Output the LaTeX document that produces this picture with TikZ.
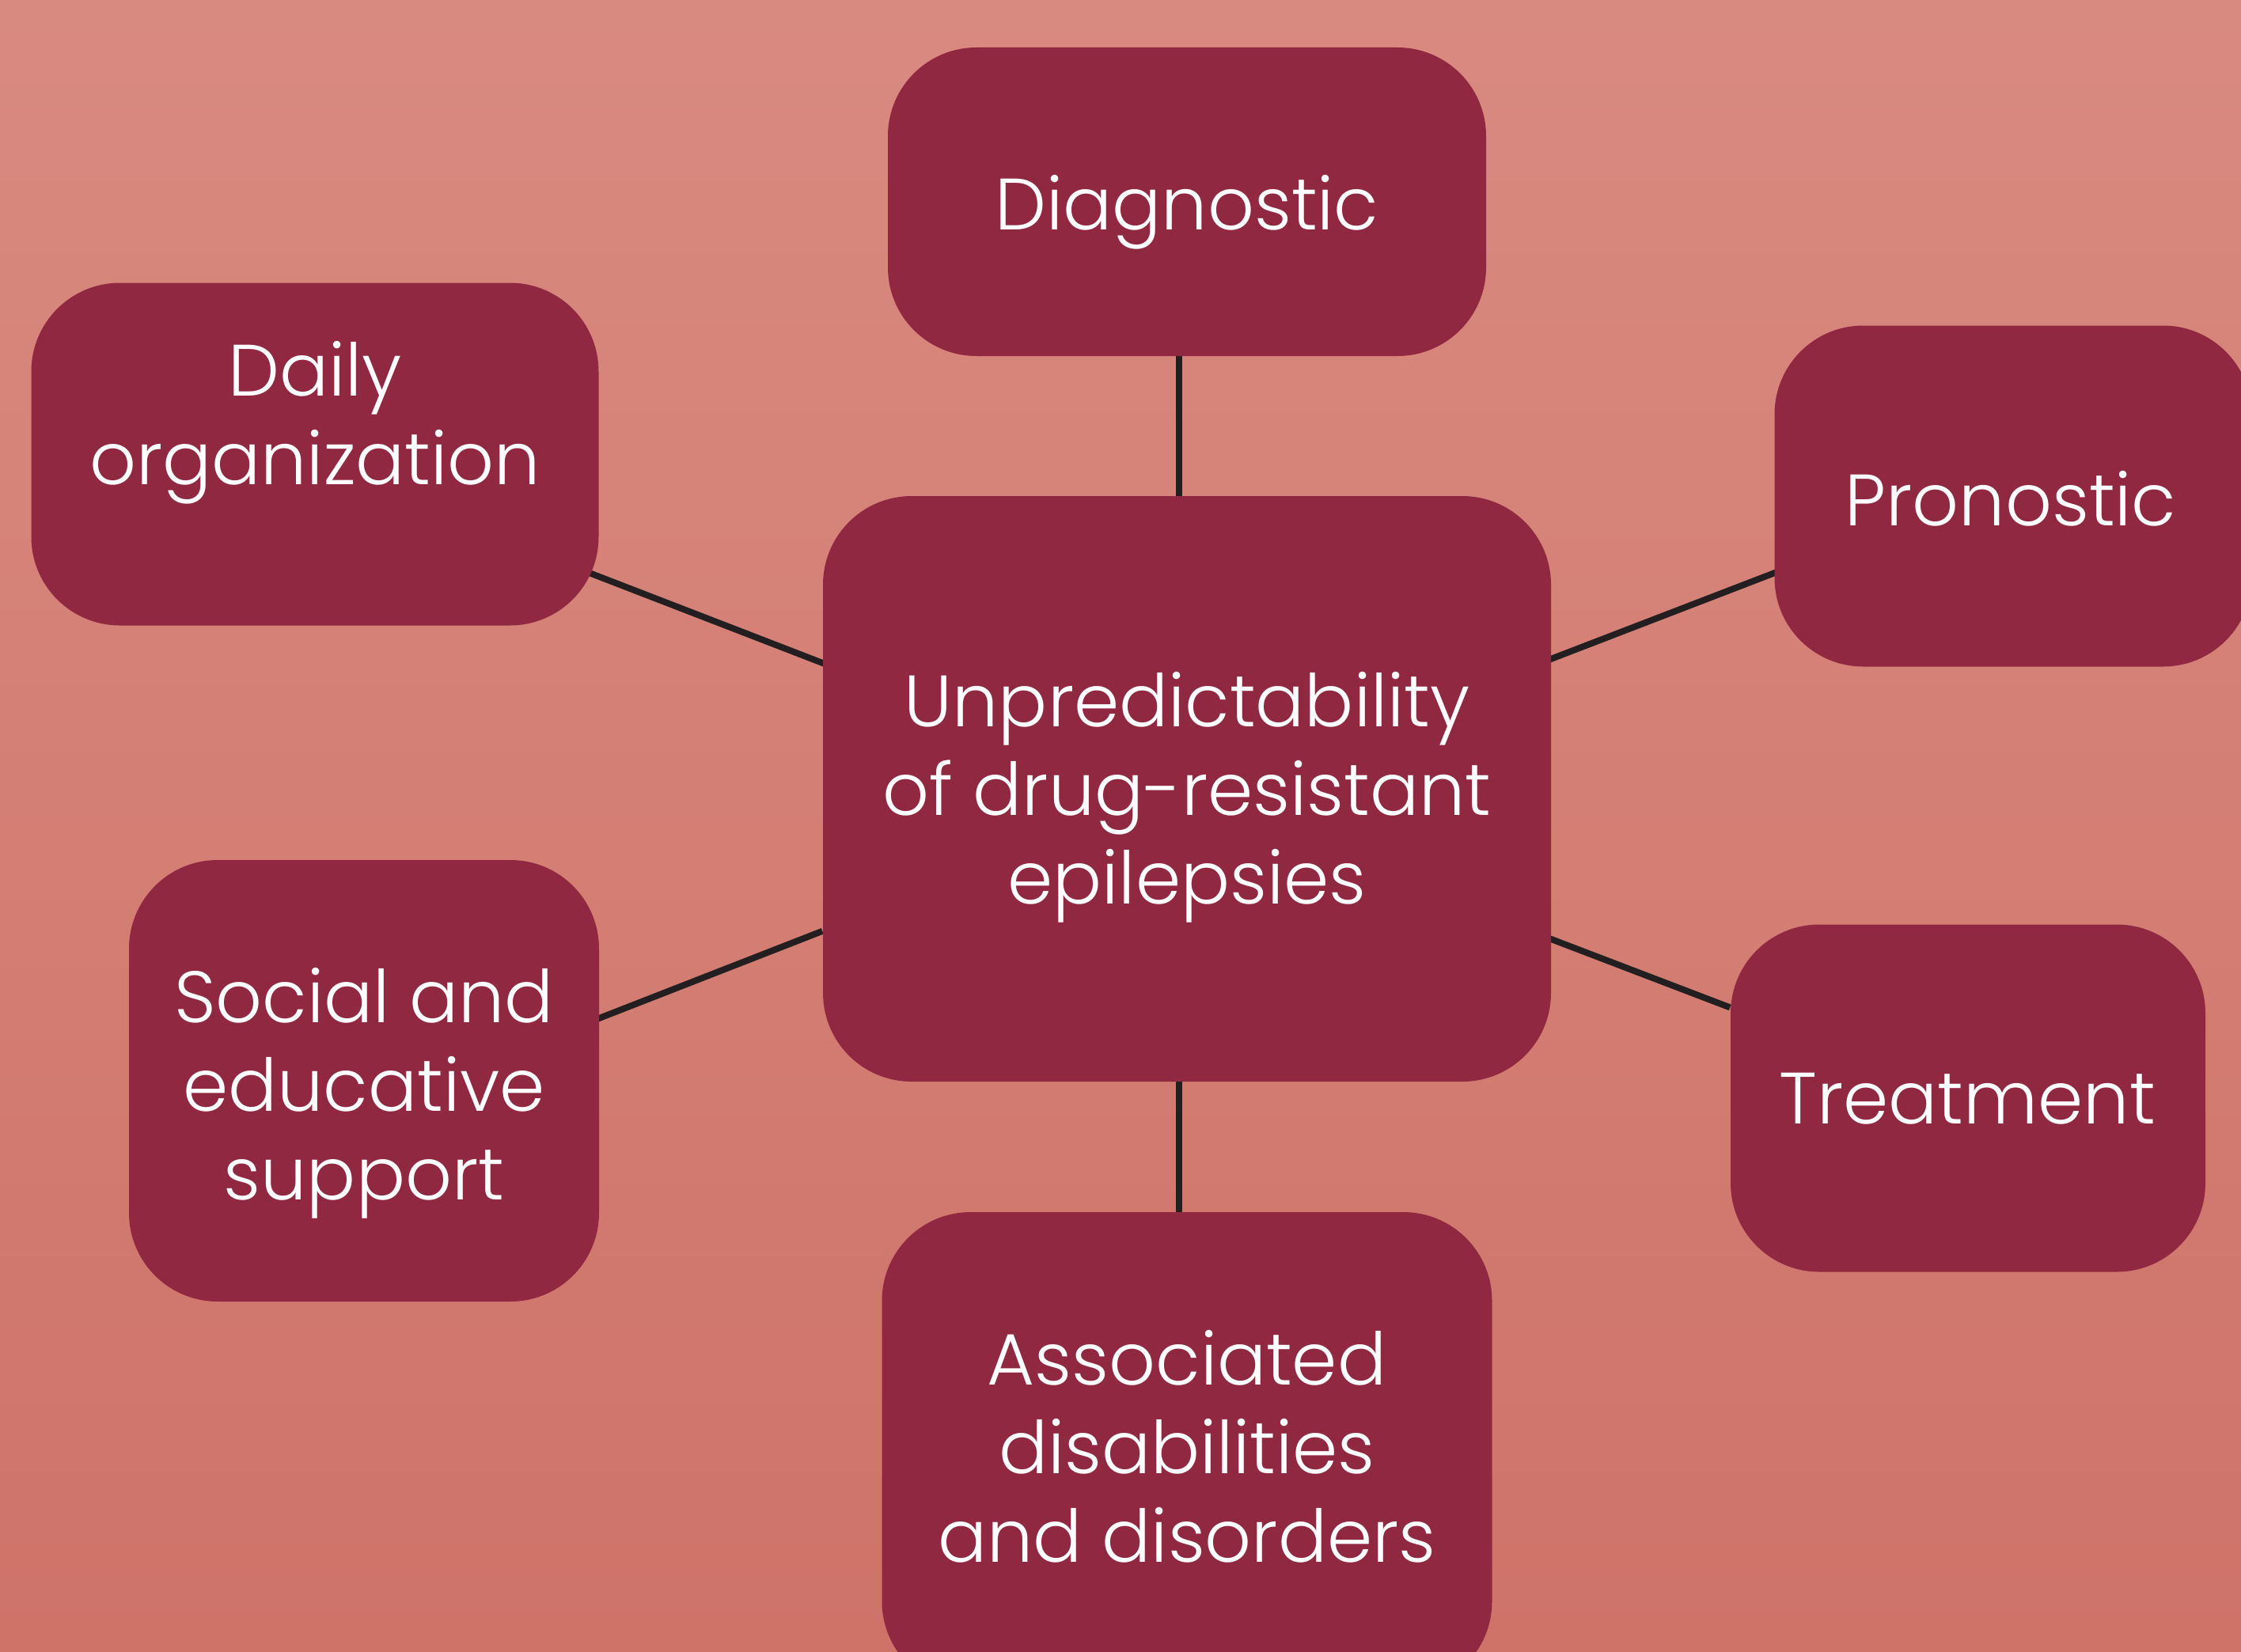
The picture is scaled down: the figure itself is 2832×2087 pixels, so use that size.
\documentclass[tikz,border=0pt]{standalone}
\usepackage{fontspec}
\setmainfont{Poppins}[UprightFont=* Light]
\usetikzlibrary{calc,backgrounds}
\definecolor{boxc}{HTML}{912841}
\definecolor{bgtop}{HTML}{D98A80}
\definecolor{bgbot}{HTML}{CF7369}
\definecolor{linec}{HTML}{231F20}
\pgfdeclarelayer{lines}
\pgfsetlayers{background,lines,main}
\tikzset{
  box/.style={fill=boxc, rounded corners=28pt, inner sep=0pt},
  txt/.style={text=white, align=center, inner sep=0pt, font=\fontsize{23}{28}\selectfont},
  conn/.style={draw=linec, line width=2pt}
}
\begin{document}
\begin{tikzpicture}[x=0.25pt,y=-0.25pt]
\useasboundingbox (0,0) rectangle (2832,2087);
\begin{pgfonlayer}{background}
\shade[top color=bgtop, bottom color=bgbot] (0,0) rectangle (2832,2087);
\end{pgfonlayer}
% boxes
\node[box, minimum width=189pt, minimum height=97.5pt] (diag) at (1500,255) {};
\node[box, minimum width=179.25pt, minimum height=108.25pt] (daily) at (398,574) {};
\node[box, minimum width=150.75pt, minimum height=107.75pt] (pron) at (2544,627) {};
\node[box, minimum width=150pt, minimum height=109.75pt] (treat) at (2487,1388) {};
\node[box, minimum width=148.5pt, minimum height=139.5pt] (soc) at (460,1366) {};
\node[box, minimum width=192.75pt, minimum height=151pt] (assoc) at (1500,1834) {};
\node[box, minimum width=230pt, minimum height=185pt] (cen) at (1500,997) {};
% texts
\node[txt] (diagt) at (1500,268) {Diagnostic};
\node[txt] (dailyt) at (398,534) {Daily\\organization};
\node[txt] (pront) at (2541,630) {Pronostic};
\node[txt] (treatt) at (2486,1389) {Treatment};
\node[txt] (soct) at (460,1382) {Social and\\educative\\support};
\node[txt] (assoct) at (1500,1828) {Associated\\disabilities\\and disorders};
\node[txt] (cent) at (1500,1008) {Unpredictability\\of drug-resistant\\epilepsies};
% connectors
\begin{pgfonlayer}{lines}
\draw[conn] ($(diag)+(-10,0)$) -- ($(cen)+(-10,0)$);
\draw[conn] ($(cen)+(-10,0)$) -- ($(assoc)+(-10,0)$);
\draw[conn] ($(daily)+(0,16)$) -- ($(cen)+(0,19)$);
\draw[conn] ($(pron)+(0,-19)$) -- ($(cen)+(0,13)$);
\draw[conn] ($(soc)+(0,37)$) -- (cen);
\draw[conn] (treat) -- ($(cen)+(0,14)$);
\end{pgfonlayer}
\end{tikzpicture}
\end{document}
